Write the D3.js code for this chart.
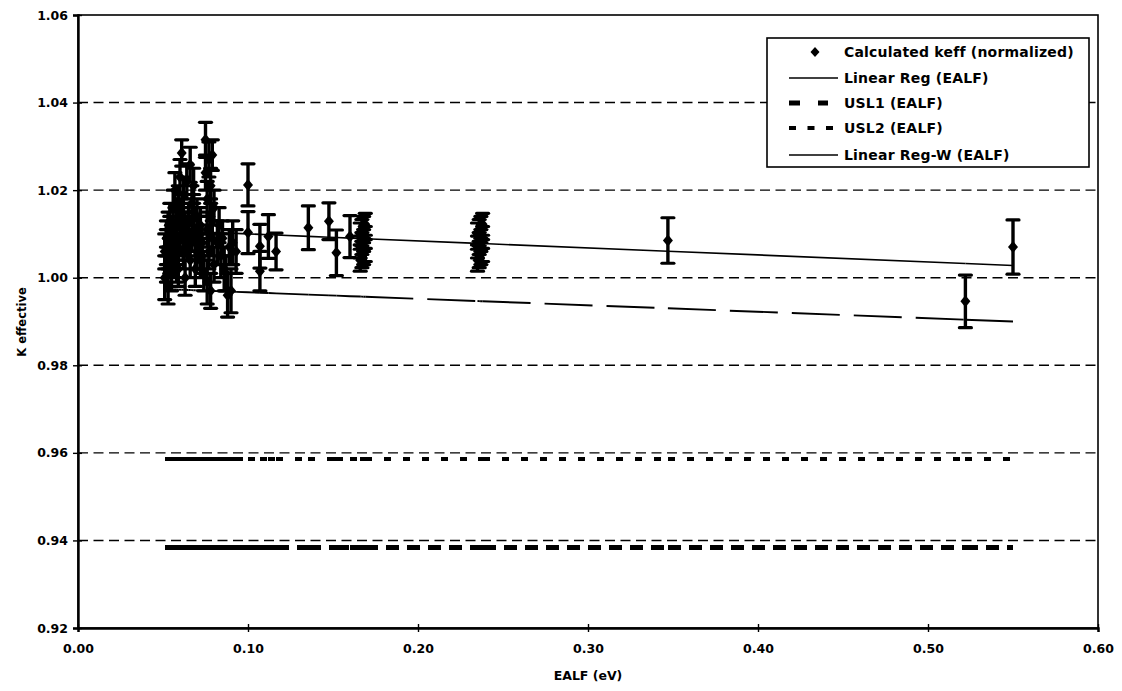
<!DOCTYPE html>
<html>
<head>
<meta charset="utf-8">
<script src="https://cdn.jsdelivr.net/npm/d3@7"></script>
<style>
  body { margin: 0; background: #fff; }
  text { font-family: "DejaVu Sans", "Liberation Sans", sans-serif; font-weight: bold; fill: #000; }
</style>
</head>
<body>
<script>
'use strict';

// EALF (eV) of each benchmark
const ealf = [
  0.051, 0.051, 0.052, 0.052, 0.053, 0.053, 0.054, 0.054, 0.055, 0.055,
  0.056, 0.056, 0.057, 0.057, 0.058, 0.058, 0.059, 0.059, 0.060, 0.060,
  0.061, 0.061, 0.062, 0.062, 0.063, 0.063, 0.064, 0.064, 0.065, 0.066,
  0.066, 0.067, 0.067, 0.068, 0.069, 0.069, 0.070, 0.070, 0.071, 0.072,
  0.072, 0.073, 0.074, 0.075, 0.075, 0.076, 0.076, 0.076, 0.077, 0.077,
  0.078, 0.078, 0.078, 0.079, 0.079, 0.080, 0.080, 0.082, 0.083, 0.084,
  0.085, 0.086, 0.087, 0.088, 0.089, 0.090, 0.091, 0.093,
  0.052, 0.054, 0.056, 0.058, 0.062, 0.065, 0.068, 0.073,
  0.100, 0.100, 0.107, 0.107, 0.112, 0.1165, 0.1355, 0.1476, 0.152, 0.160,
  0.166, 0.167, 0.168, 0.169, 0.166, 0.167, 0.168, 0.169, 0.166, 0.167, 0.168, 0.169,
  0.235, 0.236, 0.237, 0.238, 0.235, 0.236, 0.237, 0.238, 0.235, 0.236, 0.237, 0.238,
  0.347, 0.522, 0.550
];

// calculated keff (normalized)
const keff = [
  1.000, 1.006, 1.009, 1.003, 1.011, 0.998, 1.005, 1.013, 1.008, 1.001,
  1.016, 1.010, 1.004, 1.020, 1.012, 1.007, 1.017, 1.002, 1.009, 1.023,
  1.0285, 1.014, 1.006, 1.019, 1.011, 1.000, 1.022, 1.008, 1.013, 1.004,
  1.0258, 1.017, 1.010, 1.021, 1.008, 1.002, 1.014, 1.006, 1.010, 1.004,
  1.012, 1.008, 1.001, 1.0315, 1.024, 1.018, 1.011, 0.999, 1.027, 1.006,
  1.021, 1.014, 0.997, 1.028, 1.009, 1.016, 1.003, 1.008, 1.012, 1.005,
  1.009, 1.002, 1.001, 0.996, 1.007, 0.997, 1.008, 1.006,
  1.007, 1.010, 1.006, 1.003, 1.012, 1.009, 1.015, 1.005,
  1.0212, 1.0103, 1.0072, 1.0015, 1.0094, 1.0060, 1.0114, 1.0129, 1.0057, 1.0094,
  1.0040, 1.0048, 1.0055, 1.0062, 1.0070, 1.0078, 1.0085, 1.0092, 1.0100, 1.0108, 1.0115, 1.0122,
  1.0040, 1.0048, 1.0055, 1.0062, 1.0070, 1.0078, 1.0085, 1.0092, 1.0100, 1.0108, 1.0115, 1.0122,
  1.0085, 0.9946, 1.0070
];

// half length of the error bars
const keffErr = [
  0.005, 0.004, 0.004, 0.004, 0.004, 0.004, 0.004, 0.004, 0.004, 0.004,
  0.004, 0.004, 0.004, 0.004, 0.004, 0.004, 0.004, 0.004, 0.004, 0.004,
  0.003, 0.004, 0.004, 0.004, 0.004, 0.004, 0.004, 0.004, 0.004, 0.004,
  0.004, 0.004, 0.004, 0.004, 0.004, 0.004, 0.004, 0.004, 0.004, 0.004,
  0.004, 0.004, 0.004, 0.004, 0.004, 0.004, 0.004, 0.005, 0.004, 0.004,
  0.004, 0.004, 0.004, 0.0035, 0.004, 0.004, 0.004, 0.005, 0.004, 0.005,
  0.004, 0.005, 0.004, 0.005, 0.004, 0.005, 0.005, 0.005,
  0.004, 0.004, 0.004, 0.004, 0.004, 0.004, 0.004, 0.004,
  0.0048, 0.0048, 0.005, 0.0045, 0.005, 0.0042, 0.005, 0.0042, 0.0052, 0.0048,
  0.0025, 0.0025, 0.0025, 0.0025, 0.0025, 0.0025, 0.0025, 0.0025, 0.0025, 0.0025, 0.0025, 0.0025,
  0.0025, 0.0025, 0.0025, 0.0025, 0.0025, 0.0025, 0.0025, 0.0025, 0.0025, 0.0025, 0.0025, 0.0025,
  0.0052, 0.006, 0.0062
];

// fitted lines: keff at first and last EALF
const linRegEnds = [1.0108, 1.0028];
const linRegWEnds = [0.9974, 0.9900];
const usl1Ends = [0.9384, 0.9384];
const usl2Ends = [0.9586, 0.9586];

const xTicks = [0.00, 0.10, 0.20, 0.30, 0.40, 0.50, 0.60];
const yTicks = [0.92, 0.94, 0.96, 0.98, 1.00, 1.02, 1.04, 1.06];
const gridValues = [0.94, 0.96, 0.98, 1.00, 1.02, 1.04];

const legendLabels = [
  "Calculated keff (normalized)",
  "Linear Reg (EALF)",
  "USL1 (EALF)",
  "USL2 (EALF)",
  "Linear Reg-W (EALF)"
];

(function() {

  let svgContainer = "";
  let xScale, yScale;

  window.onload = function() {
    svgContainer = d3.select('body')
      .append('svg')
      .attr('width', 1122)
      .attr('height', 691);

    drawAxes();
    drawFitLines();
    plotData();
    drawLegend();
  };

  function drawAxes() {
    xScale = d3.scaleLinear().domain([0, 0.6]).range([78, 1098]);
    yScale = d3.scaleLinear().domain([0.92, 1.06]).range([628, 15]);

    // dashed grid lines
    svgContainer.append('g')
      .selectAll('line')
      .data(gridValues)
      .enter()
      .append('line')
        .attr('x1', 78).attr('x2', 1098)
        .attr('y1', d => yScale(d)).attr('y2', d => yScale(d))
        .attr('stroke', '#000')
        .attr('stroke-width', 1.4)
        .attr('stroke-dasharray', '10,5.5');

    // frame round plot area
    svgContainer.append('rect')
      .attr('x', 78).attr('y', 15)
      .attr('width', 1020).attr('height', 613)
      .attr('fill', 'none')
      .attr('stroke', '#000')
      .attr('stroke-width', 1.6);

    let yAxis = d3.axisLeft(yScale)
      .tickValues(yTicks)
      .tickFormat(d3.format('.2f'))
      .tickSize(5)
      .tickPadding(5);

    let gy = svgContainer.append('g')
      .attr('transform', 'translate(78, 0)')
      .call(yAxis);
    gy.select('.domain').attr('stroke-width', 2.4);
    gy.selectAll('.tick line').attr('x1', 4).attr('stroke-width', 1.4);
    gy.selectAll('.tick text').style('font-size', '12.5px');

    let xAxis = d3.axisBottom(xScale)
      .tickValues(xTicks)
      .tickFormat(d3.format('.2f'))
      .tickSize(4)
      .tickPadding(12);

    let gx = svgContainer.append('g')
      .attr('transform', 'translate(0, 628)')
      .call(xAxis);
    gx.select('.domain').attr('stroke-width', 2.4);
    gx.selectAll('.tick line').attr('y1', -4).attr('stroke-width', 1.4);
    gx.selectAll('.tick text').style('font-size', '12.5px');

    // axis titles
    svgContainer.append('text')
      .attr('x', 588).attr('y', 680)
      .style('text-anchor', 'middle')
      .style('font-size', '12.5px')
      .text('EALF (eV)');

    svgContainer.append('text')
      .attr('transform', 'translate(26, 322) rotate(-90)')
      .style('text-anchor', 'middle')
      .style('font-size', '11.5px')
      .text('K effective');
  }

  // fitted lines are drawn point to point, so the dash pattern restarts at each benchmark
  function drawFitLines() {
    let xs = Array.from(new Set(ealf)).sort((a, b) => a - b);
    let x0 = xs[0], x1 = xs[xs.length - 1];

    let lines = [
      { ends: usl1Ends, width: 5, dash: '13,8', crisp: true },
      { ends: usl2Ends, width: 4, dash: '7,12', crisp: true },
      { ends: linRegWEnds, width: 1.9, dash: '48,14', crisp: false },
      { ends: linRegEnds, width: 1.6, dash: null, crisp: false }
    ];

    lines.forEach(ln => {
      let kAt = d3.scaleLinear().domain([x0, x1]).range(ln.ends);
      let segs = d3.pairs(xs);
      svgContainer.append('g')
        .attr('shape-rendering', ln.crisp ? 'crispEdges' : null)
        .selectAll('line')
        .data(segs)
        .enter()
        .append('line')
          .attr('x1', d => xScale(d[0]))
          .attr('x2', d => xScale(d[1]))
          .attr('y1', d => yScale(kAt(d[0])))
          .attr('y2', d => yScale(kAt(d[1])))
          .attr('stroke', '#000')
          .attr('stroke-width', ln.width)
          .attr('stroke-dasharray', ln.dash);
    });
  }

  function plotData() {
    let pts = ealf.map((x, i) => ({ x: x, k: keff[i], e: keffErr[i] }));
    let g = svgContainer.append('g');

    // error bars
    g.selectAll('.err')
      .data(pts)
      .enter()
      .append('line')
        .attr('x1', d => xScale(d.x)).attr('x2', d => xScale(d.x))
        .attr('y1', d => yScale(d.k + d.e)).attr('y2', d => yScale(d.k - d.e))
        .attr('stroke', '#000')
        .attr('stroke-width', 3.4);

    ['top', 'bottom'].forEach(side => {
      g.selectAll('.cap-' + side)
        .data(pts)
        .enter()
        .append('line')
          .attr('x1', d => xScale(d.x) - 6).attr('x2', d => xScale(d.x) + 6)
          .attr('y1', d => yScale(side === 'top' ? d.k + d.e : d.k - d.e))
          .attr('y2', d => yScale(side === 'top' ? d.k + d.e : d.k - d.e))
          .attr('stroke', '#000')
          .attr('stroke-width', 3.2)
          .attr('stroke-linecap', 'round');
    });

    // diamond markers
    g.selectAll('.pt')
      .data(pts)
      .enter()
      .append('path')
        .attr('d', 'M0,-6L5,0L0,6L-5,0Z')
        .attr('transform', d => 'translate(' + xScale(d.x) + ',' + yScale(d.k) + ')')
        .attr('fill', '#000');
  }

  function drawLegend() {
    let lg = svgContainer.append('g');
    lg.append('rect')
      .attr('x', 767).attr('y', 38)
      .attr('width', 322).attr('height', 129)
      .attr('fill', '#fff')
      .attr('stroke', '#000')
      .attr('stroke-width', 1.6);

    let rowY = [52, 78, 103, 128, 155];

    legendLabels.forEach((label, i) => {
      let y = rowY[i];
      if (i === 0) {
        lg.append('path')
          .attr('d', 'M0,-5L4.5,0L0,5L-4.5,0Z')
          .attr('transform', 'translate(815,' + y + ')')
          .attr('fill', '#000');
      } else if (i === 1 || i === 4) {
        lg.append('line')
          .attr('x1', 789).attr('x2', 838)
          .attr('y1', y).attr('y2', y)
          .attr('stroke', '#000').attr('stroke-width', 1.5);
      } else if (i === 2) {
        lg.append('line')
          .attr('x1', 789).attr('x2', 828)
          .attr('y1', y).attr('y2', y)
          .attr('stroke', '#000').attr('stroke-width', 5)
          .attr('stroke-dasharray', '11,18');
      } else {
        lg.append('line')
          .attr('x1', 789).attr('x2', 835)
          .attr('y1', y).attr('y2', y)
          .attr('stroke', '#000').attr('stroke-width', 4)
          .attr('stroke-dasharray', '7,11.5');
      }
      lg.append('text')
        .attr('x', 844).attr('y', y + 5)
        .style('font-size', '14px')
        .style('letter-spacing', '0.2px')
        .text(label);
    });
  }

})();
</script>
</body>
</html>
